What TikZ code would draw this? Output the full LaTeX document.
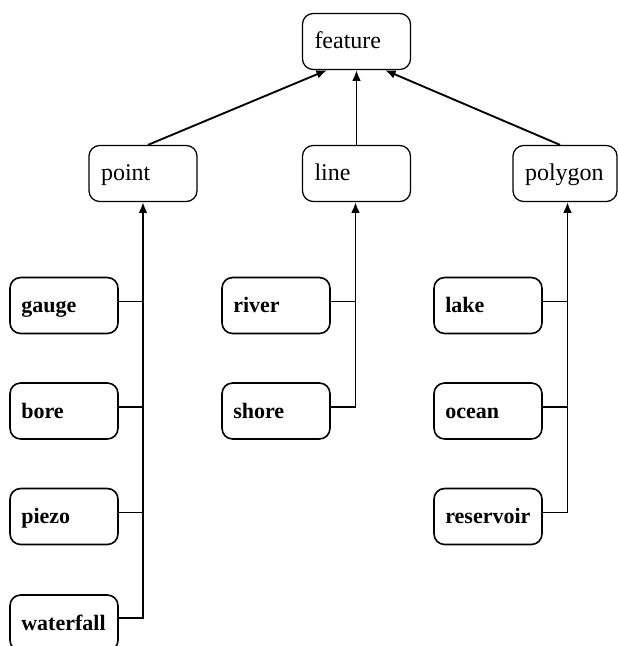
\documentclass[tikz,border=0pt]{standalone}
\usepackage{fontspec}
\setmainfont{Liberation Serif}
\usetikzlibrary{arrows.meta,calc}
\begin{document}
\begin{tikzpicture}[x=0.75pt,y=-0.75pt,
  box/.style={draw, line width=0.95pt, rounded corners=8pt, minimum height=42pt,
    inner xsep=9pt, inner ysep=0pt, text width=63pt, align=left,
    text height=13pt, text depth=2.5pt,
    font=\fontsize{18}{20}\selectfont},
  leaf/.style={box, line width=1.2pt, font=\bfseries\fontsize{16.5}{19}\selectfont,
    inner xsep=8.5pt, text width=64pt},
  link/.style={line width=1.4pt, -{Latex[length=8pt,width=6.5pt]}},
  tie/.style={line width=1.4pt}]
\useasboundingbox (0,0) rectangle (618,646);
% upper nodes
\node[box] (feature) at (356.5,41.5) {feature};
\node[box] (point) at (143,173.5) {point};
\node[box] (line) at (356.5,173.5) {line};
\node[box, text width=60pt] (polygon) at (565,173.5) {polygon};
% leaves
\node[leaf] (gauge) at (64,305.5) {gauge};
\node[leaf] (bore) at (64,411) {bore};
\node[leaf] (piezo) at (64,516.5) {piezo};
\node[leaf] (waterfall) at (64,623) {waterfall};
\node[leaf] (river) at (276,305.5) {river};
\node[leaf] (shore) at (276,411) {shore};
\node[leaf] (lake) at (488,305.5) {lake};
\node[leaf] (ocean) at (488,411) {ocean};
\node[leaf] (reservoir) at (488,516.5) {reservoir};
% arrows to feature
\draw[link] ($(point.north)+(5,0)$) -- ($(feature.south)+(-29.5,0)$);
\draw[link] (line.north) -- (feature.south);
\draw[link] ($(polygon.north)+(-5,0)$) -- ($(feature.south)+(28.5,0)$);
% trunk coordinates
\coordinate (ptrunk) at (point.south);
\coordinate (ltrunk) at ($(line.south)+(-1,0)$);
\coordinate (gtrunk) at ($(polygon.south)+(2.5,0)$);
% point group
\coordinate (c4) at ($(waterfall.east)+(0,-5)$);
\draw[link] (c4) -| (ptrunk);
\coordinate (c1) at ($(gauge.east)+(0,-4)$);
\coordinate (c2) at ($(bore.east)+(0,-4)$);
\coordinate (c3) at ($(piezo.east)+(0,-4)$);
\draw[tie] (c1) -- (c1 -| ptrunk);
\draw[tie] (c2) -- (c2 -| ptrunk);
\draw[tie] (c3) -- (c3 -| ptrunk);
% line group
\coordinate (r2) at ($(shore.east)+(0,-4)$);
\draw[link] (r2) -| (ltrunk);
\coordinate (r1) at ($(river.east)+(0,-4)$);
\draw[tie] (r1) -- (r1 -| ltrunk);
% polygon group
\coordinate (o3) at ($(reservoir.east)+(0,-4)$);
\draw[link] (o3) -| (gtrunk);
\coordinate (o1) at ($(lake.east)+(0,-4)$);
\coordinate (o2) at ($(ocean.east)+(0,-4)$);
\draw[tie] (o1) -- (o1 -| gtrunk);
\draw[tie] (o2) -- (o2 -| gtrunk);
\end{tikzpicture}
\end{document}
